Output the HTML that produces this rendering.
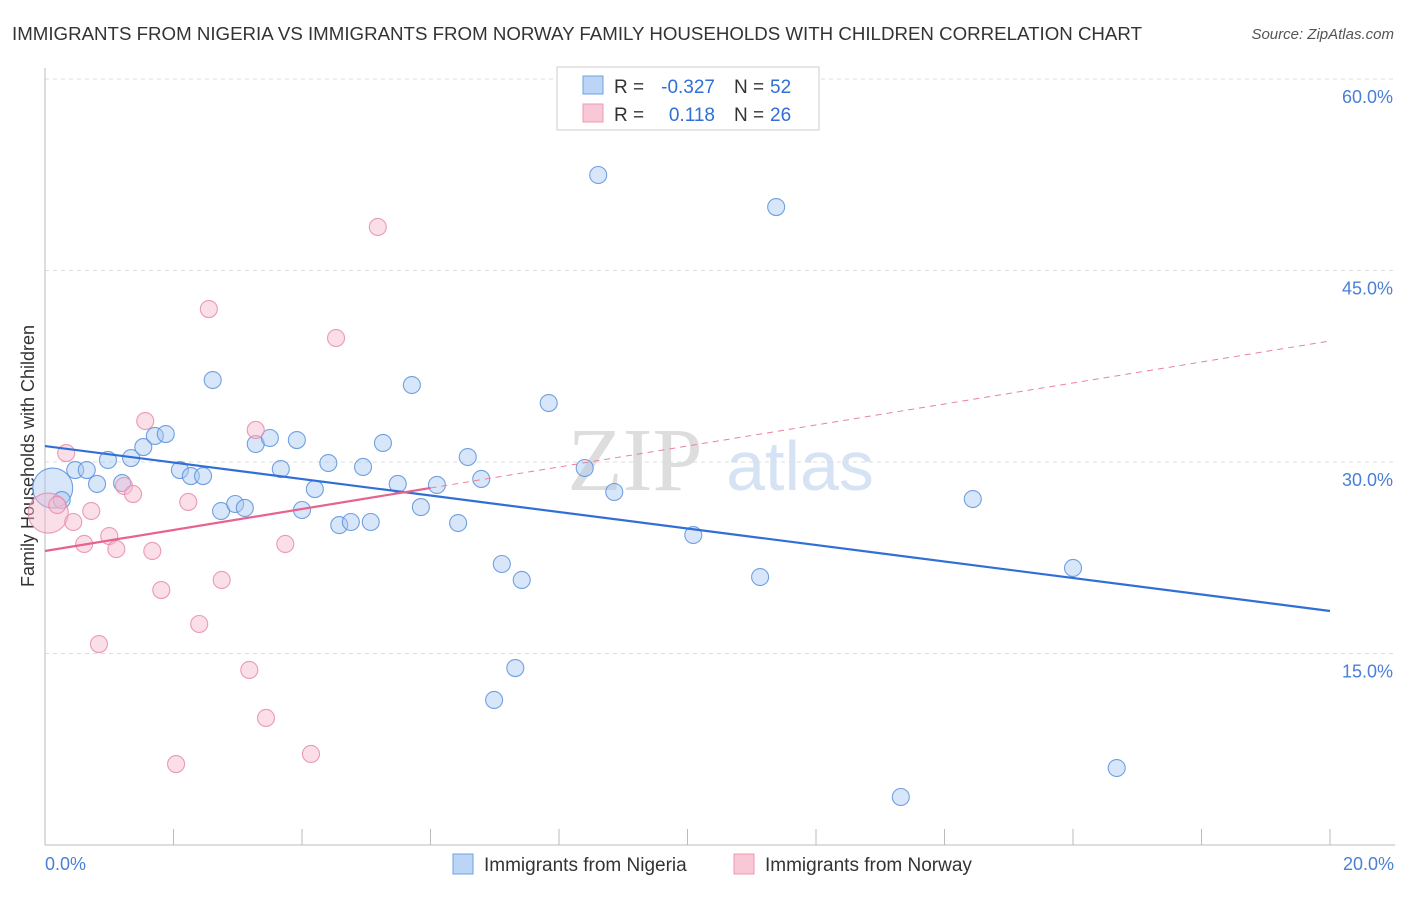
<!DOCTYPE html>
<html><head><meta charset="utf-8"><style>
body{margin:0;background:#fff;font-family:"Liberation Sans",sans-serif}
</style></head><body>
<svg width="1406" height="892" xmlns="http://www.w3.org/2000/svg" font-family="Liberation Sans, sans-serif">
<text x="12" y="40" font-size="18" fill="#333" textLength="1130" lengthAdjust="spacingAndGlyphs">IMMIGRANTS FROM NIGERIA VS IMMIGRANTS FROM NORWAY FAMILY HOUSEHOLDS WITH CHILDREN CORRELATION CHART</text>
<text x="1394" y="39" font-size="15" fill="#555" font-style="italic" text-anchor="end">Source: ZipAtlas.com</text>
<text x="635" y="490" font-size="90" fill="#ddd" font-family="Liberation Serif, serif" text-anchor="middle">ZIP</text>
<text x="800" y="490" font-size="70" fill="#d6e3f5" text-anchor="middle">atlas</text>
<g id="grid"></g>
<line x1="45" y1="68" x2="45" y2="845" stroke="#bbb"/>
<line x1="45" y1="845" x2="1395" y2="845" stroke="#bbb"/>
<text transform="translate(34,456) rotate(-90)" font-size="18" fill="#333" text-anchor="middle">Family Households with Children</text>
<text x="45" y="870" font-size="18" fill="#4a7fd6">0.0%</text>
<text x="1394" y="870" font-size="18" fill="#4a7fd6" text-anchor="end">20.0%</text>
<g id="marks"></g>
<g>
<rect x="557" y="67" width="262" height="63" fill="#fff" stroke="#ccc"/>
<rect x="583" y="76" width="20" height="18" fill="#bcd4f5" stroke="#6fa0e0"/>
<rect x="583" y="104" width="20" height="18" fill="#f9c8d6" stroke="#ec9ab3"/>
<text x="614" y="93" font-size="19" fill="#333">R =</text>
<text x="715" y="93" font-size="19" fill="#2f6fd6" text-anchor="end">-0.327</text>
<text x="734" y="93" font-size="19" fill="#333">N =</text>
<text x="770" y="93" font-size="19" fill="#2f6fd6">52</text>
<text x="614" y="121" font-size="19" fill="#333">R =</text>
<text x="715" y="121" font-size="19" fill="#2f6fd6" text-anchor="end">0.118</text>
<text x="734" y="121" font-size="19" fill="#333">N =</text>
<text x="770" y="121" font-size="19" fill="#2f6fd6">26</text>
</g>
<g>
<rect x="453" y="854" width="20" height="20" fill="#bcd4f5" stroke="#6fa0e0"/>
<text x="484" y="871" font-size="19" fill="#333">Immigrants from Nigeria</text>
<rect x="734" y="854" width="20" height="20" fill="#f9c8d6" stroke="#ec9ab3"/>
<text x="765" y="871" font-size="19" fill="#333">Immigrants from Norway</text>
</g>
</svg>
<script>
const yTicks=[15,30,45,60];
const yTickLabels=["15.0%","30.0%","45.0%","60.0%"];
const xTicks=[0,2,4,6,8,10,12,14,16,18,20];
const nigeriaX=[0.12,0.26,0.47,0.65,0.81,0.98,1.20,1.34,1.53,1.71,1.88,2.10,2.27,2.46,2.61,2.74,2.96,3.11,3.28,3.50,3.67,3.92,4.00,4.20,4.41,4.58,4.76,4.95,5.07,5.26,5.49,5.71,5.85,6.10,6.43,6.58,6.79,7.11,7.42,6.99,7.32,7.84,8.40,8.61,8.86,10.09,11.13,11.38,13.32,14.44,16.00,16.68];
const nigeriaY=[27.96,27.02,29.37,29.37,28.28,30.16,28.35,30.31,31.17,32.04,32.19,29.37,28.90,28.90,36.42,26.16,26.71,26.40,31.41,31.88,29.45,31.72,26.24,27.88,29.92,25.06,25.30,29.61,25.30,31.49,28.28,36.03,26.47,28.20,25.22,30.39,28.67,22.01,20.76,11.36,13.86,34.62,29.53,52.48,27.65,24.28,20.99,49.97,3.76,27.10,21.70,6.03];
const norwayX=[0.05,0.19,0.33,0.44,0.61,0.72,0.84,1.00,1.11,1.23,1.37,1.56,1.67,1.81,2.04,2.23,2.40,2.55,2.75,3.18,3.28,3.44,3.74,4.14,4.53,5.18];
const norwayY=[26.00,26.63,30.70,25.30,23.58,26.16,15.74,24.20,23.18,28.12,27.49,33.21,23.03,19.97,6.34,26.87,17.31,41.98,20.76,13.71,32.51,9.95,23.58,7.13,39.71,48.41];
const nigeriaTrend=[31.25,18.33];
const norwayTrend=[23.03,39.48];
const norwaySolidEnd=6.0;
const sx=v=>45+v/20*1285;
const sy=v=>845-v/15*191.5;
const NS="http://www.w3.org/2000/svg";
function mk(t,a,p){const e=document.createElementNS(NS,t);for(const k in a)e.setAttribute(k,a[k]);p.appendChild(e);return e;}
const grid=document.getElementById('grid'),marks=document.getElementById('marks');
yTicks.forEach((v,i)=>{
 const l=mk('line',{x1:45,x2:1395,y1:sy(v),y2:sy(v),stroke:'#ddd','stroke-dasharray':'4,4'},grid);
 
 
 const t=mk('text',{x:1393,y:sy(v)+24,'font-size':18,fill:'#4a7fd6','text-anchor':'end'},grid);
 t.textContent=yTickLabels[i];
 
 
});
xTicks.forEach(v=>{
 const l=mk('line',{x1:sx(v),x2:sx(v),y1:829,y2:845,stroke:'#bbb'},grid);
 
 
});
function dots(X,Y,fill,stroke,name){
 X.forEach((x,i)=>{
  const c=mk('circle',{cx:sx(x),cy:sy(Y[i]),r:i==0?20:8.5,fill:fill,'fill-opacity':0.45,stroke:stroke,'stroke-width':1.1,'stroke-opacity':0.85},marks);
  
  
 });
}
dots(nigeriaX,nigeriaY,'#a9c8f2','#5a90dc','nigeria-point');
dots(norwayX,norwayY,'#f7b8cb','#e98aa8','norway-point');
const ny=x=>norwayTrend[0]+(norwayTrend[1]-norwayTrend[0])*x/20;
let l=mk('line',{x1:sx(0),y1:sy(nigeriaTrend[0]),x2:sx(20),y2:sy(nigeriaTrend[1]),stroke:'#2f6fd6','stroke-width':2.2},marks);


l=mk('line',{x1:sx(0),y1:sy(ny(0)),x2:sx(norwaySolidEnd),y2:sy(ny(norwaySolidEnd)),stroke:'#e8628e','stroke-width':2.2},marks);


l=mk('line',{x1:sx(norwaySolidEnd),y1:sy(ny(norwaySolidEnd)),x2:sx(20),y2:sy(ny(20)),stroke:'#e8829e','stroke-width':1,'stroke-dasharray':'6,5'},marks);


</script>
</body></html>
